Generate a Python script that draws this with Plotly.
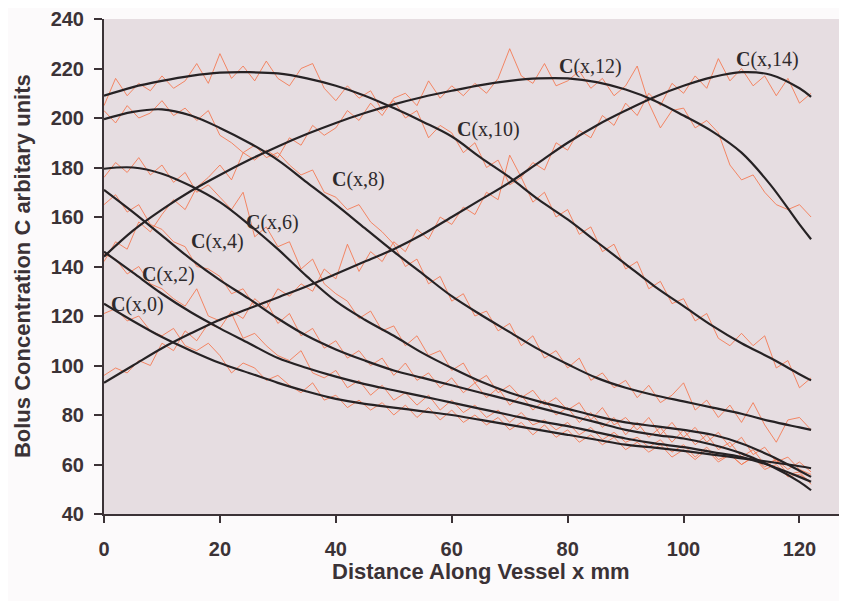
import plotly.graph_objects as go

# ---------------- data ----------------
x_model = [0, 5, 10, 15, 20, 25, 30, 35, 40, 45, 50, 55, 60, 65, 70, 75, 80, 85, 90, 95, 100, 105, 110, 115, 120, 122]

c0 = [125, 118, 111.5, 106, 101, 97, 93, 89.5, 86.5, 84.5, 83, 81.5, 80, 78, 76, 74, 72, 70, 68, 66.8, 65.5, 64, 62.5, 61, 59.3, 58.5]
c2 = [146, 137.5, 129, 121.5, 115, 109, 103, 99, 95.5, 92.5, 90, 87.5, 85, 82.5, 80, 77.5, 75.5, 73, 70.5, 68.5, 67, 65, 63, 59.5, 55, 53]
c4 = [171, 162, 152.5, 143, 134.5, 127, 119, 112, 106.5, 102, 98, 95, 92, 89, 86, 83, 80, 77, 74, 72, 70.5, 68, 64.5, 59.5, 53, 49.6]
c6 = [179.5, 180, 177.5, 172.5, 166, 157, 147, 136, 126, 118.5, 112, 105, 99, 93.5, 89, 85.5, 82.5, 79.5, 77, 75.5, 74, 72, 68.5, 63.5, 57.5, 55]
c8 = [199.5, 202.5, 203.5, 201, 196, 190, 183, 174, 165, 155.5, 146, 137, 128, 120.5, 113.5, 106.5, 100.5, 95, 91, 88, 85.5, 83, 80.5, 77.5, 75, 74]
c10 = [209, 212.5, 215, 217, 218.3, 218.5, 218, 216, 213, 209, 204, 198.5, 192.5, 184, 176, 167, 159, 150, 141, 132, 124, 116, 109, 103, 96.5, 94]
c12 = [144, 154.5, 163, 170.5, 177, 183, 188.5, 193.5, 198, 202, 205.5, 208.5, 211, 213.3, 215, 216, 216, 214.5, 211.5, 207, 201, 194.5, 186, 173, 157, 151]
c14 = [93, 100, 107, 113, 118.5, 123, 127.5, 132, 137, 142, 147, 153, 160, 167, 174, 182, 190, 197, 203, 208.5, 213, 216.5, 218.5, 217.5, 212, 208.5]

x_meas = list(range(0, 123, 2))

m0 = [121, 123, 118, 120, 114, 112, 115, 108, 106, 109, 104, 97, 101, 99, 94, 96, 92, 89, 93, 86,
      88, 83, 86, 82, 85, 80, 84, 79, 83, 78, 82, 77, 80, 76, 79, 74, 77, 72, 76, 71,
      74, 69, 72, 68, 71, 66, 69, 65, 68, 63, 66, 62, 66, 61, 64, 60, 63, 59, 62, 58, 61, 57]
m2 = [145, 143, 137, 140, 133, 131, 127, 124, 131, 120, 118, 121, 111, 113, 108, 104, 102, 106, 97, 95,
      98, 91, 94, 88, 92, 86, 89, 84, 88, 82, 86, 81, 84, 79, 82, 77, 81, 76, 78, 74,
      77, 72, 75, 70, 73, 69, 71, 67, 70, 65, 68, 63, 67, 62, 64, 60, 63, 58, 60, 55, 56, 53]
m4 = [165, 169, 162, 165, 157, 155, 150, 148, 140, 139, 136, 129, 131, 124, 126, 117, 121, 112, 115, 107,
      110, 103, 106, 100, 103, 96, 101, 94, 97, 91, 95, 89, 93, 87, 91, 84, 88, 82, 86, 80,
      83, 77, 81, 75, 79, 72, 77, 71, 75, 69, 74, 68, 72, 66, 69, 63, 66, 60, 62, 56, 57, 52]
m6 = [176, 182, 178, 184, 177, 181, 174, 178, 170, 173, 168, 163, 170, 152, 156, 148, 150, 139, 143, 133,
      129, 126, 119, 122, 114, 116, 108, 112, 104, 106, 98, 101, 93, 96, 89, 92, 87, 90, 84, 87,
      82, 85, 78, 83, 76, 79, 74, 79, 72, 77, 71, 75, 69, 73, 67, 71, 64, 67, 61, 63, 58, 56]
m8 = [203, 198, 205, 200, 202, 207, 201, 204, 199, 203, 193, 190, 186, 189, 184, 186, 181, 177, 179, 170,
      168, 163, 165, 158, 154, 149, 140, 143, 133, 136, 126, 129, 120, 122, 114, 117, 108, 112, 103, 106,
      99, 103, 94, 97, 91, 94, 87, 92, 85, 88, 93, 82, 86, 79, 84, 77, 85, 76, 69, 78, 79, 74]
m10 = [205, 216, 209, 214, 211, 217, 212, 215, 222, 214, 226, 216, 221, 215, 223, 216, 213, 220, 222, 212,
       207, 213, 208, 211, 203, 207, 200, 203, 192, 197, 194, 186, 190, 180, 183, 173, 176, 166, 170, 160,
       163, 153, 156, 146, 149, 139, 142, 131, 134, 125, 127, 118, 121, 111, 108, 113, 108, 112, 99, 102, 91, 95]
m12 = [142, 150, 147, 158, 154, 161, 167, 163, 172, 176, 181, 175, 186, 183, 187, 184, 192, 189, 197, 193,
       196, 203, 199, 206, 201, 208, 210, 205, 215, 208, 213, 209, 214, 210, 216, 228, 217, 214, 222, 213,
       215, 219, 212, 216, 209, 213, 221, 206, 196, 203, 204, 196, 199, 194, 181, 175, 177, 170, 165, 163, 165, 160]
m14 = [96, 99, 97, 102, 100, 109, 106, 114, 110, 117, 115, 122, 119, 127, 123, 131, 128, 133, 130, 139,
       135, 149, 138, 146, 142, 150, 146, 155, 151, 160, 157, 164, 161, 170, 167, 185, 176, 182, 179, 190,
       187, 195, 192, 201, 197, 206, 201, 210, 205, 214, 210, 217, 212, 224, 215, 220, 213, 217, 209, 216, 206, 210]

curve_names = ["C(x,0)", "C(x,2)", "C(x,4)", "C(x,6)", "C(x,8)", "C(x,10)", "C(x,12)", "C(x,14)"]
model_series = [c0, c2, c4, c6, c8, c10, c12, c14]
measured_series = [m0, m2, m4, m6, m8, m10, m12, m14]

# label anchor points (data coords)
label_x = [5.8, 11.1, 19.6, 29.1, 43.9, 66.3, 83.9, 114.4]
label_y = [124.7, 136.6, 150.0, 157.7, 175.3, 195.4, 220.9, 223.8]

x_ticks = [0, 20, 40, 60, 80, 100, 120]
y_ticks = [40, 60, 80, 100, 120, 140, 160, 180, 200, 220, 240]

# ---------------- figure ----------------
fig = go.Figure()

for name, ys in zip(curve_names, measured_series):
    fig.add_trace(go.Scatter(x=x_meas, y=ys, mode="lines", name=name + " data",
                             line=dict(color="rgba(244,118,78,0.85)", width=1),
                             showlegend=False, hoverinfo="skip"))

for name, ys in zip(curve_names, model_series):
    fig.add_trace(go.Scatter(x=x_model, y=ys, mode="lines", name=name,
                             line=dict(color="#262224", width=2.2, shape="spline", smoothing=1.0),
                             showlegend=False))

for name, lx, ly in zip(curve_names, label_x, label_y):
    fig.add_annotation(x=lx, y=ly, xref="x", yref="y", showarrow=False,
                       text="<b>C</b>" + name[1:],
                       font=dict(family="Liberation Serif, Times New Roman, serif", size=20, color="#2e2a2c"))

axis_font = dict(family="Liberation Sans, Arial, sans-serif", size=20, color="#3b3236", weight="bold")

fig.update_xaxes(range=[0, 128.2], tickvals=x_ticks, ticks="outside", ticklen=7, tickwidth=1.5,
                 tickcolor="#3b3236", showline=True, linecolor="#3b3236", linewidth=2,
                 showgrid=False, zeroline=False, tickfont=axis_font, ticklabelstandoff=9,
                 ticklabeloverflow="allow")
fig.update_yaxes(range=[40, 240], tickvals=y_ticks, ticks="outside", ticklen=8, tickwidth=1.5,
                 tickcolor="#3b3236", showline=True, linecolor="#3b3236", linewidth=2,
                 showgrid=False, zeroline=False, tickfont=axis_font, ticklabelstandoff=6,
                 ticklabeloverflow="allow")

title_font = dict(family="Liberation Sans, Arial, sans-serif", size=22, color="#3b3236", weight="bold")
fig.add_annotation(text="Distance Along Vessel x mm", xref="paper", yref="paper",
                   x=0.508, y=-0.1165, xanchor="center", yanchor="middle",
                   showarrow=False, font=title_font)
fig.add_annotation(text="Bolus Concentration C arbitary units", xref="paper", yref="paper",
                   x=-0.1096, y=0.5, xanchor="center", yanchor="middle", textangle=-90,
                   showarrow=False, font=title_font)

# page has an 8px body margin; size the figure so the plot lands where the reference has it
fig.update_layout(width=839, height=593,
                  margin=dict(l=95.5, r=0, t=8, b=87),
                  plot_bgcolor="#E6DDE1", paper_bgcolor="#FCFAFB",
                  showlegend=False)

fig.write_html("out.html")
